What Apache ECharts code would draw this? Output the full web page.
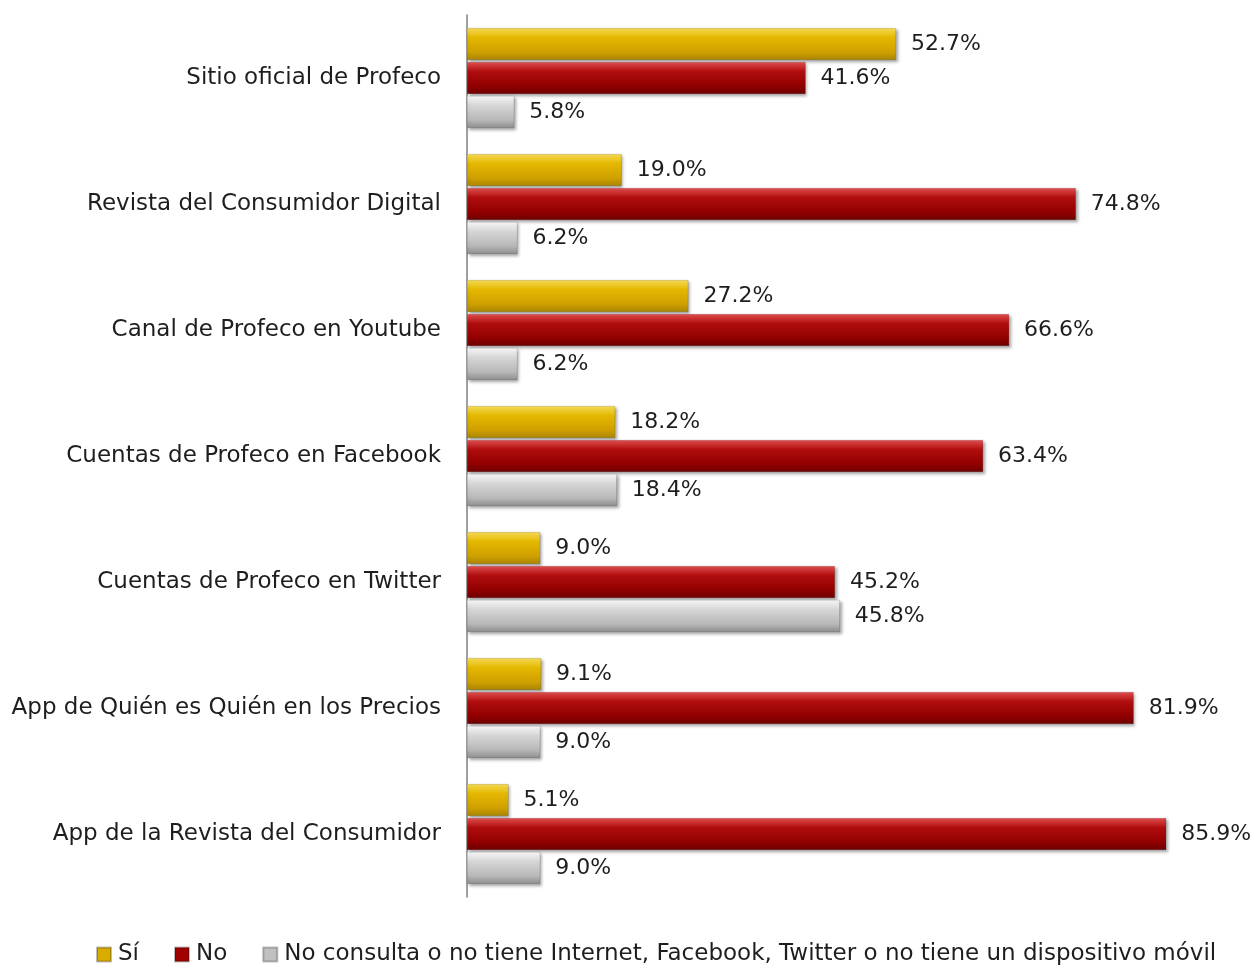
<!DOCTYPE html>
<html><head><meta charset="utf-8">
<script src="https://cdn.jsdelivr.net/npm/echarts@6/dist/echarts.min.js"></script>
<style>html,body{margin:0;padding:0;background:#fff}#c{width:1259px;height:966px}</style>
</head><body><div id="c"></div>
<script>
var categories = ["Sitio oficial de Profeco","Revista del Consumidor Digital","Canal de Profeco en Youtube","Cuentas de Profeco en Facebook","Cuentas de Profeco en Twitter","App de Quién es Quién en los Precios","App de la Revista del Consumidor"];
var siValues = [52.7,19.0,27.2,18.2,9.0,9.1,5.1];
var noValues = [41.6,74.8,66.6,63.4,45.2,81.9,85.9];
var ncValues = [5.8,6.2,6.2,18.4,45.8,9.0,9.0];
var seriesNames = ["Sí","No","No consulta o no tiene Internet, Facebook, Twitter o no tiene un dispositivo móvil"];

function grad(a,b,c,d){return new echarts.graphic.LinearGradient(0,0,0,1,[{offset:0,color:a},{offset:0.3,color:b},{offset:0.75,color:c},{offset:1,color:d}]);}
var colors = [grad('#f7dc55','#e4b800','#cfa000','#a98400'), grad('#e25050','#b00d0d','#920000','#6e0000'), grad('#f8f8f8','#d6d6d6','#b8b8b8','#8e8e8e')];
var legendColors = ['#d9ad00','#a00000','#c0c0c0'];
var font = '"DejaVu Sans", sans-serif';
function mk(i,data){
  return {name:seriesNames[i],type:'bar',data:data,barWidth:32,barGap:'6%',
    itemStyle:{color:colors[i],borderColor:'rgba(0,0,0,0.25)',borderWidth:0.5,shadowColor:'rgba(0,0,0,0.35)',shadowBlur:3,shadowOffsetX:2,shadowOffsetY:2},
    label:{show:true,position:'right',distance:15,fontFamily:font,fontSize:22,color:'#1e1e1e',formatter:function(p){return p.value.toFixed(1)+'%';}}};
}
var chart = echarts.init(document.getElementById('c'),null,{renderer:'canvas'});
chart.setOption({
  animation:false,
  backgroundColor:'#ffffff',
  color:legendColors,
  grid:{left:467,top:15,width:732.6,height:882,containLabel:false},
  xAxis:{type:'value',min:0,max:90,show:false},
  yAxis:{type:'category',data:categories,inverse:true,
    axisLine:{show:true,lineStyle:{color:'#808080',width:1.5}},axisTick:{show:false},
    axisLabel:{fontFamily:font,fontSize:23,color:'#1e1e1e',margin:26}},
  legend:{top:938,left:91,itemWidth:14,itemHeight:14,itemGap:35,icon:'rect',
    textStyle:{fontFamily:font,fontSize:23,color:'#1e1e1e',padding:[0,0,0,2]},
    data:seriesNames.map(function(n,i){return {name:n,itemStyle:{color:legendColors[i]}};})},
  series:[mk(0,siValues),mk(1,noValues),mk(2,ncValues)]
});
</script></body></html>
